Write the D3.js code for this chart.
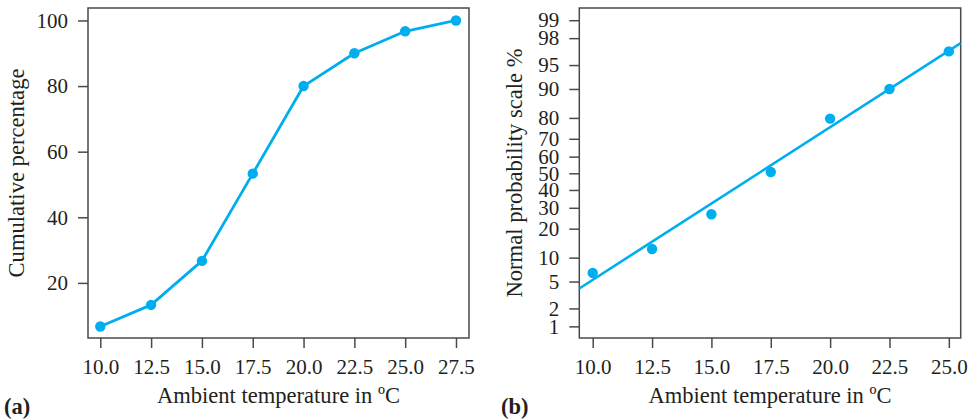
<!DOCTYPE html>
<html>
<head>
<meta charset="utf-8">
<script src="https://cdn.jsdelivr.net/npm/d3@7"></script>
<style>
  html, body { margin: 0; padding: 0; background: #fff; }
  svg { display: block; }
  text { font-family: "Liberation Serif", "DejaVu Serif", serif; fill: #231f20; }
</style>
</head>
<body>
<svg id="chart" width="972" height="419"></svg>
<script>
// ---- Data ----
const tempsA = [10.0, 12.5, 15.0, 17.5, 20.0, 22.5, 25.0, 27.5];
const cumPercent = [6.7, 13.3, 26.7, 53.3, 80.0, 90.0, 96.7, 100.0];
const xTicksA = [10.0, 12.5, 15.0, 17.5, 20.0, 22.5, 25.0, 27.5];
const yTicksA = [20, 40, 60, 80, 100];

const tempsB = [10.0, 12.5, 15.0, 17.5, 20.0, 22.5, 25.0];
const probPercent = [6.5, 12.5, 26.7, 50.8, 79.7, 90.0, 96.8];
const fitX = [9.435, 25.5];
const fitP = [4.0, 97.6];
const xTicksB = [10.0, 12.5, 15.0, 17.5, 20.0, 22.5, 25.0];
const yTicksB = [1, 2, 5, 10, 20, 30, 40, 50, 60, 70, 80, 90, 95, 98, 99];

const BLUE = "#00aeef";
const FRAME = "#4a4a4a";

// Inverse normal CDF (Acklam) used for the normal-probability axis transform
function probit(p) {
  const a = [-3.969683028665376e+01, 2.209460984245205e+02, -2.759285104469687e+02, 1.383577518672690e+02, -3.066479806614716e+01, 2.506628277459239e+00];
  const b = [-5.447609879822406e+01, 1.615858368580409e+02, -1.556989798598866e+02, 6.680131188771972e+01, -1.328068155288572e+01];
  const c = [-7.784894002430293e-03, -3.223964580411365e-01, -2.400758277161838e+00, -2.549732539343734e+00, 4.374664141464968e+00, 2.938163982698783e+00];
  const d = [7.784695709041462e-03, 3.224671290700398e-01, 2.445134137142996e+00, 3.754408661907416e+00];
  const pl = 0.02425, ph = 1 - pl;
  let q, r;
  if (p < pl) {
    q = Math.sqrt(-2 * Math.log(p));
    return (((((c[0]*q+c[1])*q+c[2])*q+c[3])*q+c[4])*q+c[5]) / ((((d[0]*q+d[1])*q+d[2])*q+d[3])*q+1);
  } else if (p <= ph) {
    q = p - 0.5; r = q*q;
    return (((((a[0]*r+a[1])*r+a[2])*r+a[3])*r+a[4])*r+a[5])*q / (((((b[0]*r+b[1])*r+b[2])*r+b[3])*r+b[4])*r+1);
  } else {
    q = Math.sqrt(-2 * Math.log(1 - p));
    return -(((((c[0]*q+c[1])*q+c[2])*q+c[3])*q+c[4])*q+c[5]) / ((((d[0]*q+d[1])*q+d[2])*q+d[3])*q+1);
  }
}

const svg = d3.select("#chart");
const FS = 21;
const TFS = 22.5;

function frame(g, x0, y0, x1, y1) {
  g.append("rect").attr("x", x0).attr("y", y0).attr("width", x1 - x0).attr("height", y1 - y0)
    .attr("fill", "none").attr("stroke", FRAME).attr("stroke-width", 1.5);
}

function styleAxis(g) {
  g.select(".domain").remove();
  g.selectAll(".tick line").attr("stroke", FRAME).attr("stroke-width", 1.5);
  g.selectAll(".tick text").attr("font-size", FS).attr("font-family", "Liberation Serif").attr("fill", "#231f20");
}

// ---- Panel (a) ----
{
  const L = 88, R = 469, T = 8, B = 338;
  const x = d3.scaleLinear().domain([9.395, 28.14]).range([L, R]);
  const y = d3.scaleLinear().domain([3.2, 103.8]).range([B, T]);
  const g = svg.append("g");
  frame(g, L, T, R, B);

  g.append("g").attr("transform", `translate(0,${B})`)
    .call(d3.axisBottom(x).tickValues(xTicksA).tickFormat(d3.format(".1f")).tickSize(10).tickPadding(11))
    .call(styleAxis);
  g.append("g").attr("transform", `translate(${L},0)`)
    .call(d3.axisLeft(y).tickValues(yTicksA).tickFormat(d3.format("d")).tickSize(10).tickPadding(10))
    .call(styleAxis);

  const pts = tempsA.map((t, i) => [t, cumPercent[i]]);
  g.append("path").datum(pts)
    .attr("d", d3.line().x(d => x(d[0])).y(d => y(d[1])))
    .attr("fill", "none").attr("stroke", BLUE).attr("stroke-width", 2.8).attr("stroke-linejoin", "round");
  g.selectAll("circle.pa").data(pts).enter().append("circle")
    .attr("cx", d => x(d[0])).attr("cy", d => y(d[1])).attr("r", 5.2).attr("fill", BLUE);

  g.append("text").attr("x", (L + R) / 2).attr("y", 403).attr("text-anchor", "middle")
    .attr("font-size", TFS).attr("textLength", 243).attr("lengthAdjust", "spacingAndGlyphs")
    .text("Ambient temperature in ºC");
  g.append("text").attr("transform", `translate(24,${(T + B) / 2}) rotate(-90)`)
    .attr("text-anchor", "middle").attr("font-size", TFS).attr("textLength", 209).attr("lengthAdjust", "spacingAndGlyphs")
    .text("Cumulative percentage");
  g.append("text").attr("x", 4).attr("y", 414).attr("font-size", TFS).attr("font-weight", "bold").text("(a)");
}

// ---- Panel (b) ----
{
  const L = 579.3, R = 960.7, T = 8, B = 338;
  const x = d3.scaleLinear().domain([9.435, 25.5]).range([L, R]);
  const z = d3.scaleLinear().domain([-2.503, 2.512]).range([B, T]);
  const y = p => z(probit(p / 100));
  const g = svg.append("g");

  g.append("g").attr("transform", `translate(0,${B})`)
    .call(d3.axisBottom(x).tickValues(xTicksB).tickFormat(d3.format(".1f")).tickSize(10).tickPadding(11))
    .call(styleAxis);

  // y axis on probit scale: map tick percentages through the probit transform
  const yAxisScale = Object.assign(p => y(p), {
    domain: () => [0.6, 99.4], range: () => [B, T], copy: function () { return this; },
    ticks: () => yTicksB, tickFormat: () => d3.format("d")
  });
  g.append("g").attr("transform", `translate(${L},0)`)
    .call(d3.axisLeft(yAxisScale).tickValues(yTicksB).tickFormat(d3.format("d")).tickSize(10).tickPadding(10))
    .call(styleAxis);

  frame(g, L, T, R, B);

  const clipId = "clipB";
  g.append("clipPath").attr("id", clipId).append("rect")
    .attr("x", L).attr("y", T).attr("width", R - L).attr("height", B - T);
  const fit = fitX.map((t, i) => [t, fitP[i]]);
  g.append("path").datum(fit).attr("clip-path", `url(#${clipId})`)
    .attr("d", d3.line().x(d => x(d[0])).y(d => y(d[1])))
    .attr("fill", "none").attr("stroke", BLUE).attr("stroke-width", 2.6);

  const pts = tempsB.map((t, i) => [t, probPercent[i]]);
  g.selectAll("circle.pb").data(pts).enter().append("circle")
    .attr("cx", d => x(d[0])).attr("cy", d => y(d[1])).attr("r", 5.2).attr("fill", BLUE);

  g.append("text").attr("x", (L + R) / 2).attr("y", 403).attr("text-anchor", "middle")
    .attr("font-size", TFS).attr("textLength", 243).attr("lengthAdjust", "spacingAndGlyphs")
    .text("Ambient temperature in ºC");
  g.append("text").attr("transform", `translate(522,${(T + B) / 2}) rotate(-90)`)
    .attr("text-anchor", "middle").attr("font-size", TFS).attr("textLength", 249).attr("lengthAdjust", "spacingAndGlyphs")
    .text("Normal probability scale %");
  g.append("text").attr("x", 501).attr("y", 414).attr("font-size", TFS).attr("font-weight", "bold").text("(b)");
}
</script>
</body>
</html>
